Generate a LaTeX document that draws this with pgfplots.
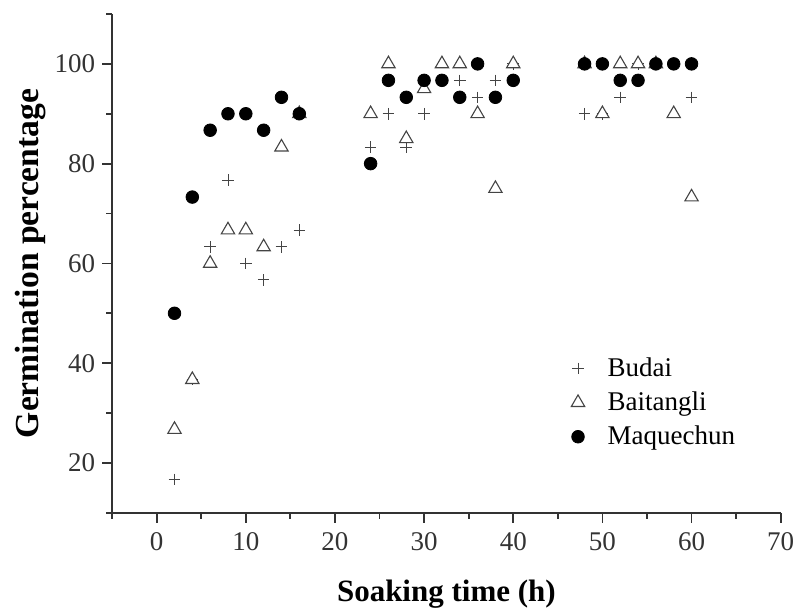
\documentclass[border=0pt]{standalone}
\usepackage{fontspec}
\setmainfont{Liberation Serif}
\usepackage{pgfplots}
\pgfplotsset{compat=1.18}

\definecolor{axgray}{HTML}{333333}
\definecolor{markgray}{HTML}{444444}

\begin{document}
\begin{tikzpicture}
\useasboundingbox (-56.05pt,-47.15pt) rectangle (342.45pt,256.4pt);
\begin{axis}[
    at={(0,0)}, anchor=south west,
    scale only axis,
    width=334.3pt,
    height=249.4pt,
    xmin=-5, xmax=70,
    ymin=10, ymax=110,
    axis x line*=bottom,
    axis y line*=left,
    axis line style={line width=0.9pt, axgray},
    xtick={0,10,...,70},
    minor xtick={-5,5,...,65},
    ytick={20,40,...,100},
    minor ytick={10,30,...,110},
    tick align=outside,
    major tick length=5pt,
    minor tick length=3pt,
    every tick/.style={line width=0.9pt, axgray},
    tick label style={font=\fontsize{13.5}{16}\selectfont, axgray},
    xticklabel style={yshift=-1.5pt},
    /pgf/number format/assume math mode=true,
    xlabel={Soaking time (h)},
    ylabel={Germination percentage},
    xlabel style={font=\fontsize{15.5}{19}\selectfont\bfseries, at={(axis description cs:0.5,0)}, anchor=center, yshift=-40.5pt},
    ylabel style={font=\fontsize{16.8}{19}\selectfont\bfseries, at={([xshift=-41pt]axis description cs:0,0.5)}, anchor=center},
    legend style={draw=none, fill=none, at={(axis cs:45.8,42.8)}, anchor=north west,
        font=\fontsize{13.5}{16}\selectfont, row sep=2.2pt,
        /tikz/every odd column/.append style={column sep=9.5pt}},
    legend cell align=left,
]
% Budai
\addplot[only marks, mark=+, mark size=2.9pt, markgray, mark options={line width=0.45pt}] coordinates {
(2,16.7) (4,36.7) (6,63.3) (8,76.7) (10,60) (12,56.7) (14,63.3) (16,66.7)
(24,83.3) (26,90) (28,83.3) (30,90) (32,96.7) (34,96.7) (36,93.3) (38,96.7) (40,100)
(48,90) (50,90) (52,93.3) (54,100) (56,100) (58,100) (60,93.3)
};
% Baitangli
\addplot[only marks, mark=triangle*, mark size=3.85pt, markgray, mark options={fill=white, line width=0.55pt}] coordinates {
(2,26.7) (4,36.7) (6,60) (8,66.7) (10,66.7) (12,63.3) (14,83.3) (16,90)
(24,90) (26,100) (28,85) (30,95) (32,100) (34,100) (36,90) (38,75) (40,100)
(48,100) (50,90) (52,100) (54,100) (56,100) (58,90) (60,73.3)
};
% Maquechun
\addplot[only marks, mark=*, mark size=3.15pt, black] coordinates {
(2,50) (4,73.3) (6,86.7) (8,90) (10,90) (12,86.7) (14,93.3) (16,90)
(24,80) (26,96.7) (28,93.3) (30,96.7) (32,96.7) (34,93.3) (36,100) (38,93.3) (40,96.7)
(48,100) (50,100) (52,96.7) (54,96.7) (56,100) (58,100) (60,100)
};
\legend{Budai, Baitangli, Maquechun}
\end{axis}
\end{tikzpicture}
\end{document}
